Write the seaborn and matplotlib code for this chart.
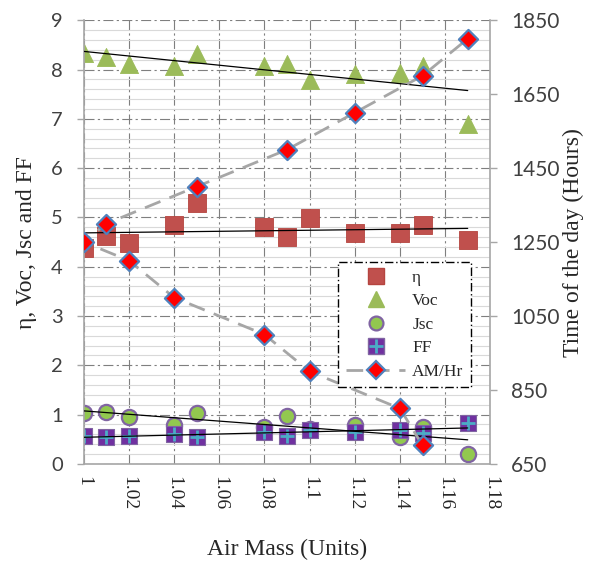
import matplotlib
matplotlib.use("Agg")
import matplotlib.pyplot as plt
import seaborn as sns
from matplotlib.ticker import MultipleLocator
from matplotlib.lines import Line2D
from matplotlib.legend_handler import HandlerTuple

# ---------------- data ----------------
air_mass = [1.00, 1.01, 1.02, 1.04, 1.05, 1.08, 1.09, 1.10, 1.12, 1.14, 1.15, 1.17]
eta = [4.38, 4.62, 4.48, 4.85, 5.29, 4.80, 4.60, 4.99, 4.68, 4.68, 4.85, 4.54]
voc = [8.33, 8.25, 8.12, 8.08, 8.32, 8.08, 8.12, 7.78, 7.90, 7.93, 8.08, 6.90]
jsc = [1.03, 1.05, 0.95, 0.79, 1.03, 0.75, 0.97, 0.70, 0.79, 0.55, 0.75, 0.20]
ff = [0.57, 0.55, 0.57, 0.61, 0.55, 0.65, 0.57, 0.69, 0.65, 0.69, 0.63, 0.83]

hr_air_mass = [1.15, 1.14, 1.10, 1.08, 1.04, 1.02, 1.00, 1.01, 1.05, 1.09, 1.12, 1.15, 1.17]
hours = [700, 800, 900, 1000, 1100, 1200, 1250, 1300, 1400, 1500, 1600, 1700, 1800]

x_ticks = [1.00, 1.02, 1.04, 1.06, 1.08, 1.10, 1.12, 1.14, 1.16, 1.18]
x_tick_labels = ["1", "1.02", "1.04", "1.06", "1.08", "1.1", "1.12", "1.14", "1.16", "1.18"]
y_left_ticks = list(range(0, 10))
y_right_ticks = [650, 850, 1050, 1250, 1450, 1650, 1850]

# ---------------- style ----------------
sns.set_style("white")
plt.rcParams["font.family"] = ["Liberation Serif", "DejaVu Serif"]

fig = plt.figure(figsize=(5.9, 5.63), dpi=100)
ax = fig.add_axes([0.142, 0.176, 0.689, 0.788])
ax2 = ax.twinx()

# grid
ax.set_axisbelow(True)
ax.yaxis.set_minor_locator(MultipleLocator(0.2))
ax.grid(which="minor", axis="y", color="#D9D9D9", lw=0.8, ls="-", zorder=0)
ax.grid(which="major", axis="both", color="#7F7F7F", lw=0.8,
        ls=(0, (9, 3, 2, 3)), zorder=0.5)

# series on left axis
sns.scatterplot(x=air_mass, y=eta, ax=ax, marker="s", s=160, color="#C0504D",
                edgecolor="#B5443F", linewidth=0.6, zorder=2)
sns.scatterplot(x=air_mass, y=voc, ax=ax, marker="^", s=170, color="#9BBB59",
                edgecolor="#9BBB59", linewidth=0.6, zorder=2)
sns.scatterplot(x=air_mass, y=jsc, ax=ax, marker="o", s=120, color="#92C84F",
                edgecolor="#8064A2", linewidth=1.6, zorder=2)
sns.scatterplot(x=air_mass, y=ff, ax=ax, marker="s", s=140, color="#7030A0",
                edgecolor="#8064A2", linewidth=0.8, zorder=2.1)
sns.scatterplot(x=air_mass, y=ff, ax=ax, marker="+", s=110, color="#4BACC6",
                linewidth=2.0, zorder=2.2)

# linear trend lines
for vals in (eta, voc, jsc, ff):
    sns.regplot(x=air_mass, y=vals, ax=ax, scatter=False, ci=None, truncate=True,
                line_kws=dict(color="black", lw=0.9, zorder=3))

# AM/Hr on right axis
sns.lineplot(x=hr_air_mass, y=hours, ax=ax2, sort=False, estimator=None,
             color="#A6A6A6", lw=2.0, dashes=False, zorder=2)
ax2.lines[-1].set_dashes([6, 3.5])
sns.scatterplot(x=hr_air_mass, y=hours, ax=ax2, marker="D", s=95, color="#FF0000",
                edgecolor="#4F81BD", linewidth=1.6, zorder=3)

# axes limits / ticks
ax.set_xlim(1.0, 1.18)
ax.set_ylim(0, 9)
ax2.set_ylim(650, 1850)
ax.set_xticks(x_ticks)
ax.set_xticklabels(x_tick_labels, rotation=270, fontsize=14,
                   family=["Liberation Serif"], color="#262626")
ax.set_yticks(y_left_ticks)
ax.set_yticklabels([str(v) for v in y_left_ticks], fontsize=14.5,
                   family=["Lato", "DejaVu Sans"], color="#404040")
ax2.set_yticks(y_right_ticks)
ax2.set_yticklabels([str(v) for v in y_right_ticks], fontsize=15,
                    family=["Lato", "DejaVu Sans"], color="#404040")

ax.tick_params(axis="x", which="major", direction="out", length=5,
               color="#A6A6A6", width=1, pad=4)
ax.tick_params(axis="y", which="major", direction="out", length=5,
               color="#A6A6A6", width=1, pad=10)
ax.tick_params(axis="y", which="minor", length=0)
ax2.tick_params(axis="y", direction="out", length=5, color="#A6A6A6", width=1,
                pad=10)

for a in (ax, ax2):
    a.spines["top"].set_visible(False)
    for s in ("left", "right", "bottom"):
        a.spines[s].set_color("#A6A6A6")
        a.spines[s].set_linewidth(1.2)
ax.spines["right"].set_visible(False)
ax2.spines["left"].set_visible(False)
ax2.spines["bottom"].set_visible(False)

ax.set_xlabel("Air Mass (Units)", fontsize=17, labelpad=20)
ax.set_ylabel("η, Voc, Jsc and FF", fontsize=17, labelpad=10)
ax2.set_ylabel("Time of the day (Hours)", fontsize=17, labelpad=2)

# legend
h_eta = Line2D([], [], ls="none", marker="s", ms=12, mfc="#C0504D", mec="#B5443F")
h_voc = Line2D([], [], ls="none", marker="^", ms=12, mfc="#9BBB59", mec="#9BBB59")
h_jsc = Line2D([], [], ls="none", marker="o", ms=10, mfc="#92C84F", mec="#8064A2", mew=1.6)
h_ff1 = Line2D([], [], ls="none", marker="s", ms=11, mfc="#7030A0", mec="#8064A2")
h_ff2 = Line2D([], [], ls="none", marker="+", ms=10, mec="#4BACC6", mew=2)
h_am = Line2D([], [], color="#A6A6A6", lw=2, dashes=[6, 3.5], marker="D", ms=9,
              mfc="#FF0000", mec="#4F81BD", mew=1.6)
leg = ax2.legend([h_eta, h_voc, h_jsc, (h_ff1, h_ff2), h_am],
                 ["η", "Voc", "Jsc", "FF", "AM/Hr"],
                 handler_map={tuple: HandlerTuple(ndivide=1)},
                 loc="upper left", bbox_to_anchor=(0.605, 0.475),
                 fontsize=12.5, handlelength=3.4, handletextpad=0.4,
                 labelspacing=0.42, borderpad=0.45, fancybox=False,
                 framealpha=1, edgecolor="black")
leg.get_frame().set_linestyle((0, (6, 2, 1, 2)))
leg.get_frame().set_linewidth(1.0)
leg.set_zorder(10)

fig.savefig("out.png", dpi=100)
